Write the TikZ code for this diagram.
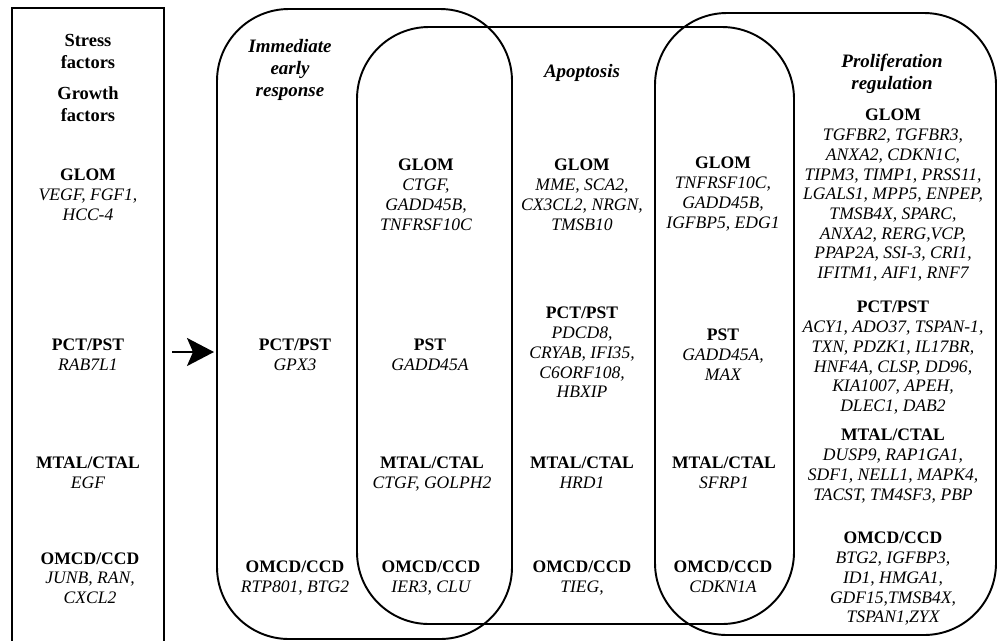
\documentclass[tikz,border=0pt]{standalone}
\usepackage{fontspec}
\setmainfont{Liberation Serif}
\usetikzlibrary{arrows.meta}
\tikzset{
  frame/.style  = {line width=1.1pt},
  lane/.style   = {line width=1.1pt, rounded corners=1.44cm},
  grp/.style    = {align=center, anchor=north, inner sep=0pt,
                   font=\fontsize{10}{11.2}\selectfont\itshape},
  title/.style  = {align=center, anchor=north, inner sep=0pt,
                   font=\fontsize{10.8}{12.5}\selectfont\bfseries\itshape},
  factor/.style = {align=center, anchor=north, inner sep=0pt,
                   font=\fontsize{10.5}{12.5}\selectfont\bfseries},
  sig/.style    = {-{Stealth[length=5.4mm,width=5.6mm,inset=1.2mm]}, line width=1.2pt},
}
\newcommand{\tissue}[2]{\textbf{\upshape #1}\\#2}

\begin{document}
\begin{tikzpicture}[x=0.02cm,y=-0.02cm]
\useasboundingbox (0,0) rectangle (1003,640);
% left frame, open at the bottom
\draw[frame] (12,641) -- (12,8) -- (164,8) -- (164,641);
% the three overlapping lanes
\draw[lane] (217,9) rectangle (512,639);
\draw[lane] (357,27) rectangle (794,624);
\draw[lane] (655,13) rectangle (996,635);
% factors column
\node[factor] (stress) at (88,34) {Stress\\factors};
\node[factor] (growth) at (88,86) {Growth\\factors};
\node[grp] (glomL) at (88,169) {\tissue{GLOM}{VEGF, FGF1,\\HCC-4}};
\node[grp] (pctL)  at (88,339) {\tissue{PCT/PST}{RAB7L1}};
\node[grp] (mtalL) at (88,457) {\tissue{MTAL/CTAL}{EGF}};
\node[grp] (omcdL) at (90,552) {\tissue{OMCD/CCD}{JUNB, RAN,\\CXCL2}};
% arrow into the first lane
\coordinate (arrS) at (172,352);
\coordinate (arrE) at (214,352);
\draw[sig] (arrS) -- (arrE);
% immediate early response
\node[title] (early) at (290,39) {Immediate\\early\\response};
\node[grp] (pctA)  at (295,339) {\tissue{PCT/PST}{GPX3}};
\node[grp] (omcdA) at (295,561) {\tissue{OMCD/CCD}{RTP801, BTG2}};
% early response and apoptosis
\node[grp] (glomAB) at (426,159) {\tissue{GLOM}{CTGF,\\GADD45B,\\TNFRSF10C}};
\node[grp] (pstAB)  at (430,339) {\tissue{PST}{GADD45A}};
\node[grp] (mtalAB) at (432,457) {\tissue{MTAL/CTAL}{CTGF, GOLPH2}};
\node[grp] (omcdAB) at (431,561) {\tissue{OMCD/CCD}{IER3, CLU}};
% apoptosis
\node[title] (apop) at (582,64) {Apoptosis};
\node[grp] (glomB) at (582,159) {\tissue{GLOM}{MME, SCA2,\\CX3CL2, NRGN,\\TMSB10}};
\node[grp] (pctB)  at (582,307) {\tissue{PCT/PST}{PDCD8,\\CRYAB, IFI35,\\C6ORF108,\\HBXIP}};
\node[grp] (mtalB) at (582,457) {\tissue{MTAL/CTAL}{HRD1}};
\node[grp] (omcdB) at (582,561) {\tissue{OMCD/CCD}{TIEG,}};
% apoptosis and proliferation
\node[grp] (glomBC) at (723,157) {\tissue{GLOM}{TNFRSF10C,\\GADD45B,\\IGFBP5, EDG1}};
\node[grp] (pstBC)  at (723,329) {\tissue{PST}{GADD45A,\\MAX}};
\node[grp] (mtalBC) at (724,457) {\tissue{MTAL/CTAL}{SFRP1}};
\node[grp] (omcdBC) at (723,561) {\tissue{OMCD/CCD}{CDKN1A}};
% proliferation regulation
\node[title] (prolif) at (892,54) {Proliferation\\regulation};
\node[grp] (glomC) at (893,109) {\tissue{GLOM}{TGFBR2, TGFBR3,\\ANXA2, CDKN1C,\\TIPM3, TIMP1, PRSS11,\\LGALS1, MPP5, ENPEP,\\TMSB4X, SPARC,\\ANXA2, RERG,VCP,\\PPAP2A, SSI-3, CRI1,\\IFITM1, AIF1, RNF7}};
\node[grp] (pctC)  at (893,301) {\tissue{PCT/PST}{ACY1, ADO37, TSPAN-1,\\TXN, PDZK1, IL17BR,\\HNF4A, CLSP, DD96,\\KIA1007, APEH,\\DLEC1, DAB2}};
\node[grp] (mtalC) at (893,429) {\tissue{MTAL/CTAL}{DUSP9, RAP1GA1,\\SDF1, NELL1, MAPK4,\\TACST, TM4SF3, PBP}};
\node[grp] (omcdC) at (893,532) {\tissue{OMCD/CCD}{BTG2, IGFBP3,\\ID1, HMGA1,\\GDF15,TMSB4X,\\TSPAN1,ZYX}};
\end{tikzpicture}
\end{document}
